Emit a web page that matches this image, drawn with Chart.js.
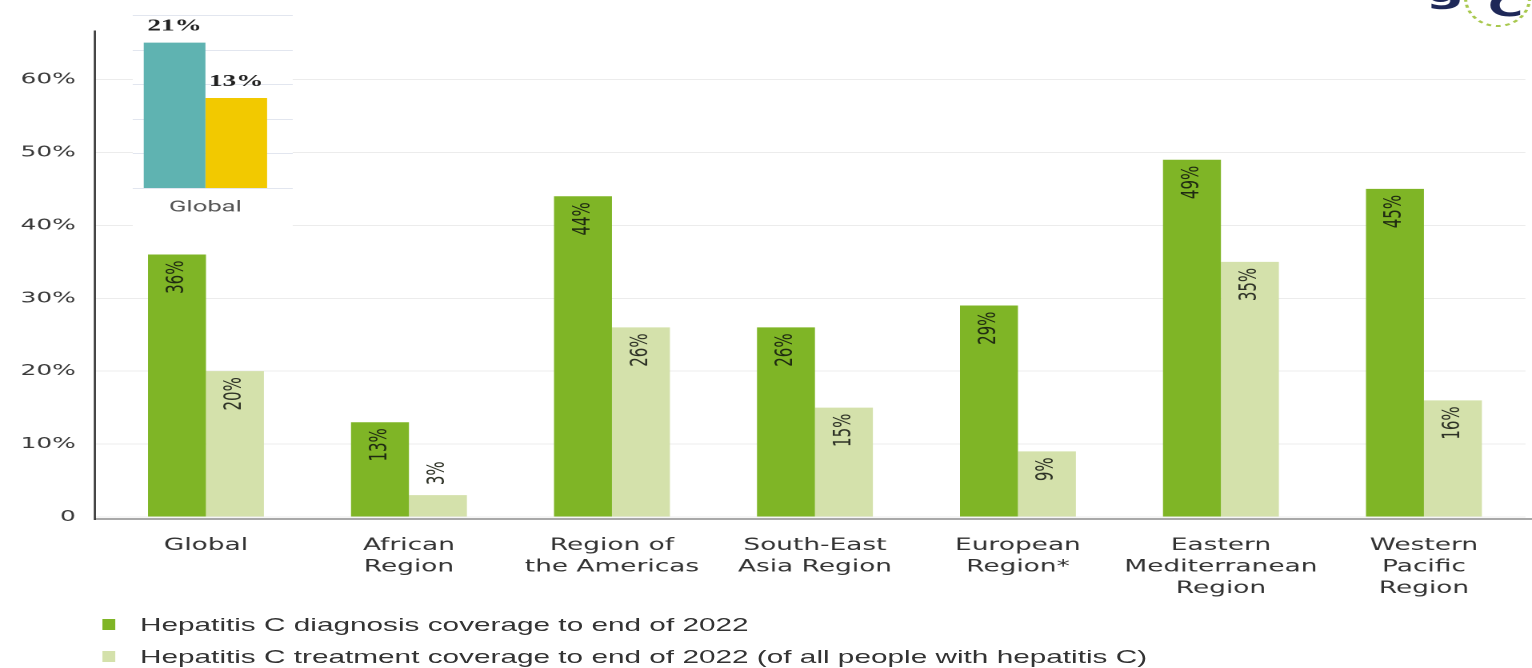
<!DOCTYPE html>
<html>
<head>
<meta charset="utf-8">
<title>Hepatitis C diagnosis and treatment coverage</title>
<script src="https://cdn.jsdelivr.net/npm/chart.js@4.4.1/dist/chart.umd.min.js"></script>
<style>
  html, body { margin: 0; padding: 0; background: #fff; overflow: hidden; }
  /* the figure is laid out narrow and widened as a whole */
  #wrap { position: relative; width: 958px; height: 668px; transform: scaleX(1.6); transform-origin: 0 0; }
  #main { position: absolute; left: 0; top: 0; }
  #inset { position: absolute; left: 82.5px; top: 0; background: #fff; }
  #legend { position: absolute; left: 0; top: 0; font-family: "Liberation Sans", Arial, sans-serif; font-size: 18.6px; color: #333; }
  #legend .sw { position: absolute; width: 8px; height: 11px; }
  #legend .txt { position: absolute; white-space: nowrap; line-height: 20px; }
</style>
</head>
<body>
<div id="wrap">
  <canvas id="main"></canvas>
  <canvas id="inset"></canvas>
  <div id="legend"></div>
</div>
<script>
// regional coverage, %
const categories = [
  ['Global'],
  ['African', 'Region'],
  ['Region of', 'the Americas'],
  ['South-East', 'Asia Region'],
  ['European', 'Region*'],
  ['Eastern', 'Mediterranean', 'Region'],
  ['Western', 'Pacific', 'Region']
];
const diagnosis = [36, 13, 44, 26, 29, 49, 45];
const treatment = [20, 3, 26, 15, 9, 35, 16];
const seriesNames = [
  'Hepatitis C diagnosis coverage to end of 2022',
  'Hepatitis C treatment coverage to end of 2022 (of all people with hepatitis C)'
];
const yMax = 67;
const yStep = 10;

// small global panel, top left
const insetLabels = ['Global'];
const insetFirst = [21];
const insetSecond = [13];
const insetMax = 25;
const insetStep = 5;

const green = '#7fb526';
const paleGreen = '#d4e1ab';

// rotated value labels just inside the top of each bar (above it when the bar is too short)
const barLabels = {
  id: 'barLabels',
  afterDatasetsDraw(chart) {
    const ctx = chart.ctx;
    ctx.save();
    ctx.font = '15px "DejaVu Sans"';
    ctx.textBaseline = 'middle';
    chart.data.datasets.forEach((ds, i) => {
      chart.getDatasetMeta(i).data.forEach((bar, j) => {
        const text = ds.data[j] + '%';
        const w = ctx.measureText(text).width;
        ctx.save();
        ctx.fillStyle = i === 0 ? '#1f2a12' : '#2e3226';
        if (bar.base - bar.y > w + 12) {
          ctx.translate(bar.x, bar.y + 6);
          ctx.rotate(-Math.PI / 2);
          ctx.textAlign = 'right';
        } else {
          ctx.translate(bar.x, bar.y - 10);
          ctx.rotate(-Math.PI / 2);
          ctx.textAlign = 'left';
        }
        ctx.fillText(text, 0, 0);
        ctx.restore();
      });
    });
    ctx.restore();
  }
};

// axis lines and the corner logo
const axisLines = {
  id: 'axisLines',
  afterDraw(chart) {
    const { ctx, chartArea, scales } = chart;
    const x0 = chartArea.left - 6;
    const y0 = scales.y.getPixelForValue(0);
    ctx.save();
    ctx.strokeStyle = '#a9a9a9';
    ctx.lineWidth = 2;
    ctx.beginPath();
    ctx.moveTo(x0, y0 + 2);
    ctx.lineTo(chart.width, y0 + 2);
    ctx.stroke();
    ctx.strokeStyle = '#333';
    ctx.lineWidth = 1.3;
    ctx.beginPath();
    ctx.moveTo(x0, chartArea.top + 2);
    ctx.lineTo(x0, y0 + 3);
    ctx.stroke();

    // logo fragment
    ctx.strokeStyle = '#a8c84e';
    ctx.lineWidth = 2;
    ctx.setLineDash([3, 3]);
    ctx.beginPath();
    ctx.ellipse(936, -2, 20, 28, 0, 0, Math.PI);
    ctx.stroke();
    ctx.setLineDash([]);
    ctx.fillStyle = '#1e2858';
    ctx.font = 'bold 30px "DejaVu Sans"';
    ctx.textAlign = 'center';
    ctx.textBaseline = 'alphabetic';
    ctx.fillText('C', 941, 16);
    ctx.font = 'bold 34px "DejaVu Sans"';
    ctx.fillText('g', 903, 2);
    ctx.restore();
  }
};

const mainCanvas = document.getElementById('main');
mainCanvas.width = 958;
mainCanvas.height = 600;

const mainChart = new Chart(mainCanvas, {
  type: 'bar',
  data: {
    labels: categories,
    datasets: [
      { label: seriesNames[0], data: diagnosis, backgroundColor: green },
      { label: seriesNames[1], data: treatment, backgroundColor: paleGreen }
    ]
  },
  options: {
    responsive: false,
    animation: false,
    devicePixelRatio: 2,
    categoryPercentage: 0.571,
    barPercentage: 1,
    layout: { padding: { top: 28.5, right: 4.6, left: 0, bottom: 0 } },
    plugins: { legend: { display: false }, tooltip: { enabled: false } },
    scales: {
      x: {
        afterFit: s => { s.height = 83; },
        grid: { display: false, drawTicks: false, tickLength: 0 },
        border: { display: false },
        ticks: {
          padding: 18,
          maxRotation: 0,
          autoSkip: false,
          color: '#333',
          font: { family: 'DejaVu Sans', size: 16.5, lineHeight: 1.3 }
        }
      },
      y: {
        min: 0,
        max: yMax,
        afterBuildTicks: s => { s.ticks = s.ticks.filter(t => t.value % yStep === 0); },
        afterFit: s => { s.width = 65.3; },
        border: { display: false },
        grid: { color: '#ececec', lineWidth: 1, drawTicks: true, tickLength: 6 },
        ticks: {
          stepSize: yStep,
          padding: 12,
          color: '#3a3a3a',
          font: { family: 'DejaVu Sans', size: 15.5 },
          callback: v => v === 0 ? '0' : v + '%'
        }
      }
    }
  },
  plugins: [barLabels, axisLines]
});

// inset: grid lines across the whole panel, values above the bars
const insetDecor = {
  id: 'insetDecor',
  beforeDatasetsDraw(chart) {
    const { ctx, scales } = chart;
    ctx.save();
    ctx.strokeStyle = '#e2e6ef';
    ctx.lineWidth = 1;
    for (let v = 0; v <= insetMax; v += insetStep) {
      const y = Math.round(scales.y.getPixelForValue(v)) + 0.5;
      ctx.beginPath();
      ctx.moveTo(0, y);
      ctx.lineTo(chart.width, y);
      ctx.stroke();
    }
    ctx.restore();
  },
  afterDatasetsDraw(chart) {
    const ctx = chart.ctx;
    ctx.save();
    ctx.font = 'bold 17px "Liberation Serif"';
    ctx.fillStyle = '#222';
    ctx.textAlign = 'center';
    ctx.textBaseline = 'alphabetic';
    chart.data.datasets.forEach((ds, i) => {
      chart.getDatasetMeta(i).data.forEach((bar, j) => {
        ctx.fillText(ds.data[j] + '%', bar.x, bar.y - 12);
      });
    });
    ctx.restore();
  }
};

const insetCanvas = document.getElementById('inset');
insetCanvas.width = 100.5;
insetCanvas.height = 230;

new Chart(insetCanvas, {
  type: 'bar',
  data: {
    labels: insetLabels,
    datasets: [
      { data: insetFirst, backgroundColor: '#5fb3b1' },
      { data: insetSecond, backgroundColor: '#f2c900' }
    ]
  },
  options: {
    responsive: false,
    animation: false,
    devicePixelRatio: 2,
    categoryPercentage: 0.849,
    barPercentage: 1,
    layout: { padding: { top: 15, right: 9.2, left: 0, bottom: 0 } },
    plugins: { legend: { display: false }, tooltip: { enabled: false } },
    scales: {
      x: {
        afterFit: s => { s.height = 42; },
        grid: { display: false, drawTicks: false, tickLength: 0 },
        border: { display: false },
        ticks: { padding: 10, color: '#555', font: { family: 'Roboto', size: 16 } }
      },
      y: { display: false, min: 0, max: insetMax, ticks: { stepSize: insetStep } }
    }
  },
  plugins: [insetDecor]
});

// legend rows under the chart
function buildLegend() {
  const box = document.getElementById('legend');
  const rowsY = [625, 657];
  mainChart.data.datasets.forEach((ds, i) => {
    const sw = document.createElement('div');
    sw.className = 'sw';
    sw.style.background = ds.backgroundColor;
    sw.style.left = '64.4px';
    sw.style.top = (rowsY[i] - 6) + 'px';
    const txt = document.createElement('div');
    txt.className = 'txt';
    txt.textContent = ds.label;
    txt.style.left = '87.5px';
    txt.style.top = (rowsY[i] - 10) + 'px';
    box.appendChild(sw);
    box.appendChild(txt);
  });
}
buildLegend();
</script>
</body>
</html>
